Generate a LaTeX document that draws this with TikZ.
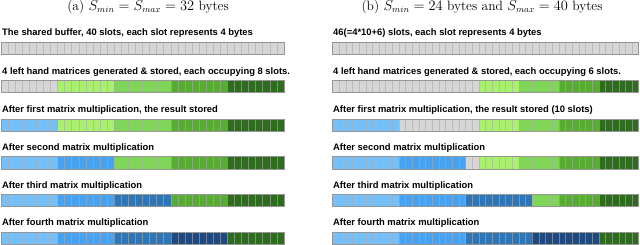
\documentclass[tikz,border=0pt]{standalone}
\usepackage{fontspec}
\newfontfamily\labfont{Liberation Sans}
\definecolor{slotgray}{RGB}{214,214,214}
\definecolor{gA}{RGB}{168,240,110}
\definecolor{gB}{RGB}{128,214,88}
\definecolor{gC}{RGB}{88,172,50}
\definecolor{gD}{RGB}{46,108,30}
\definecolor{bA}{RGB}{118,192,250}
\definecolor{bB}{RGB}{72,162,242}
\definecolor{bC}{RGB}{46,118,182}
\definecolor{bD}{RGB}{30,74,128}
\definecolor{divcol}{RGB}{170,170,170}
\definecolor{outcol}{RGB}{150,150,150}
\newcommand\slotbar[5]{%
  \xdef\slotpos{0}%
  \foreach \slotcol/\slotnum in {#5}{%
    \fill[\slotcol] ({#1+\slotpos*#2},#4) rectangle ({#1+(\slotpos+\slotnum)*#2},{#4+12.5});
    \pgfmathtruncatemacro\slotnp{\slotpos+\slotnum}\xdef\slotpos{\slotnp}%
  }%
  \pgfmathtruncatemacro\slotnm{#3-1}%
  \foreach \k in {1,...,\slotnm}{\draw[divider] ({#1+\k*#2},#4) -- ({#1+\k*#2},{#4+12.5});}%
  \draw[outline] (#1,#4) rectangle ({#1+#3*#2},{#4+12.5});
}
\begin{document}
\begin{tikzpicture}[x=1pt,y=-1pt,
  lab/.style={anchor=base west,inner sep=0pt,font=\labfont\bfseries\fontsize{9.4}{11}\selectfont},
  ttl/.style={anchor=base,inner sep=0pt,font=\fontsize{13.5}{15}\selectfont},
  divider/.style={draw=divcol,draw opacity=0.6,line width=0.6pt},
  outline/.style={draw=outcol,line width=0.8pt}]
\useasboundingbox (0,0) rectangle (640,245);
\node[ttl] (ta) at (148,10.8) {(a) $S_{min} = S_{max} = 32$ bytes};
\node[ttl] (tb) at (482,10.8) {(b) $S_{min} = 24$ bytes and $S_{max} = 40$ bytes};
% left panel
\node[lab] (la1) at (2,36) {The shared buffer, 40 slots, each slot represents 4 bytes};
\slotbar{1}{7.075}{40}{42}{slotgray/40}
\node[lab] (la2) at (2,74.4) {4 left hand matrices generated \& stored, each occupying 8 slots.};
\slotbar{1}{7.075}{40}{80.4}{slotgray/8,gA/8,gB/8,gC/8,gD/8}
\node[lab] (la3) at (2,113) {After first matrix multiplication, the result stored};
\slotbar{1}{7.075}{40}{119}{bA/8,gA/8,gB/8,gC/8,gD/8}
\node[lab] (la4) at (2,150.8) {After second matrix multiplication};
\slotbar{1}{7.075}{40}{156.8}{bA/8,bB/8,gB/8,gC/8,gD/8}
\node[lab] (la5) at (2,188.4) {After third matrix multiplication};
\slotbar{1}{7.075}{40}{194.4}{bA/8,bB/8,bC/8,gC/8,gD/8}
\node[lab] (la6) at (2,226) {After fourth matrix multiplication};
\slotbar{1}{7.075}{40}{232}{bA/8,bB/8,bC/8,bD/8,gD/8}
% right panel
\node[lab] (lb1) at (333,36) {46(=4*10+6) slots, each slot represents 4 bytes};
\slotbar{332.5}{6.66}{46}{42}{slotgray/46}
\node[lab] (lb2) at (333,74.4) {4 left hand matrices generated \& stored, each occupying 6 slots.};
\slotbar{332.5}{6.66}{46}{80.4}{slotgray/22,gA/6,gB/6,gC/6,gD/6}
\node[lab] (lb3) at (333,113) {After first matrix multiplication, the result stored (10 slots)};
\slotbar{332.5}{6.66}{46}{119}{bA/10,slotgray/12,gA/6,gB/6,gC/6,gD/6}
\node[lab] (lb4) at (333,150.8) {After second matrix multiplication};
\slotbar{332.5}{6.66}{46}{156.8}{bA/10,bB/10,slotgray/2,gA/6,gB/6,gC/6,gD/6}
\node[lab] (lb5) at (333,188.4) {After third matrix multiplication};
\slotbar{332.5}{6.66}{46}{194.4}{bA/10,bB/10,bC/10,gB/4,gC/6,gD/6}
\node[lab] (lb6) at (333,226) {After fourth matrix multiplication};
\slotbar{332.5}{6.66}{46}{232}{bA/10,bB/10,bC/10,bD/10,gD/6}
\end{tikzpicture}
\end{document}
